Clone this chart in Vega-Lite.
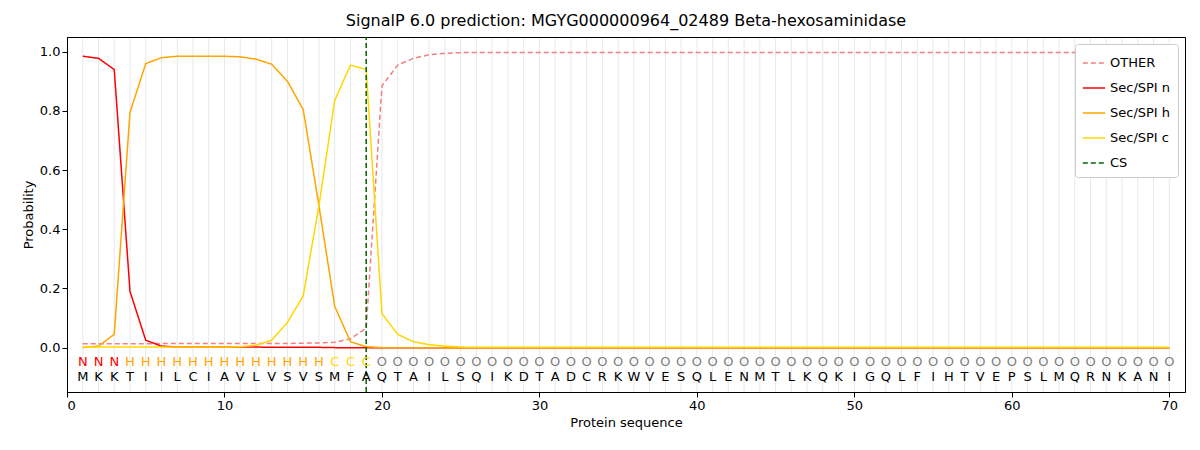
{
  "$schema": "https://vega.github.io/schema/vega-lite/v6.json",
  "width": 1118,
  "height": 355,
  "autosize": "none",
  "padding": {"left": 67, "top": 37, "right": 15, "bottom": 58},
  "title": {"text": "SignalP 6.0 prediction: MGYG000000964_02489 Beta-hexosaminidase", "font": "DejaVu Sans", "fontSize": 16, "fontWeight": "normal", "offset": 7},
  "config": {"font": "DejaVu Sans", "view": {"stroke": "black"}, "axis": {"labelFontSize": 13, "titleFontSize": 13, "titleFontWeight": "normal", "tickColor": "black", "domainColor": "black", "labelColor": "black"}},
  "datasets": {
    "seq": [
      {"pos":1,"aa":"M","lab":"N","n":0.985,"h":0.0,"c":0.002,"o":0.013},
      {"pos":2,"aa":"K","lab":"N","n":0.978,"h":0.005,"c":0.002,"o":0.013},
      {"pos":3,"aa":"K","lab":"N","n":0.94,"h":0.045,"c":0.002,"o":0.013},
      {"pos":4,"aa":"T","lab":"H","n":0.19,"h":0.795,"c":0.002,"o":0.013},
      {"pos":5,"aa":"I","lab":"H","n":0.025,"h":0.96,"c":0.002,"o":0.013},
      {"pos":6,"aa":"I","lab":"H","n":0.005,"h":0.98,"c":0.002,"o":0.014},
      {"pos":7,"aa":"L","lab":"H","n":0.002,"h":0.985,"c":0.002,"o":0.014},
      {"pos":8,"aa":"C","lab":"H","n":0.002,"h":0.985,"c":0.002,"o":0.014},
      {"pos":9,"aa":"I","lab":"H","n":0.002,"h":0.985,"c":0.002,"o":0.014},
      {"pos":10,"aa":"A","lab":"H","n":0.002,"h":0.985,"c":0.002,"o":0.014},
      {"pos":11,"aa":"V","lab":"H","n":0.002,"h":0.983,"c":0.003,"o":0.014},
      {"pos":12,"aa":"L","lab":"H","n":0.002,"h":0.975,"c":0.008,"o":0.014},
      {"pos":13,"aa":"V","lab":"H","n":0.001,"h":0.958,"c":0.025,"o":0.014},
      {"pos":14,"aa":"S","lab":"H","n":0.001,"h":0.9,"c":0.085,"o":0.014},
      {"pos":15,"aa":"V","lab":"H","n":0.001,"h":0.805,"c":0.175,"o":0.015},
      {"pos":16,"aa":"S","lab":"H","n":0.001,"h":0.48,"c":0.48,"o":0.016},
      {"pos":17,"aa":"M","lab":"C","n":0.0,"h":0.14,"c":0.835,"o":0.018},
      {"pos":18,"aa":"F","lab":"C","n":0.0,"h":0.02,"c":0.955,"o":0.03},
      {"pos":19,"aa":"A","lab":"C","n":0.0,"h":0.003,"c":0.94,"o":0.065},
      {"pos":20,"aa":"Q","lab":"O","n":0.0,"h":0.0,"c":0.115,"o":0.885},
      {"pos":21,"aa":"T","lab":"O","n":0.0,"h":0.0,"c":0.045,"o":0.955},
      {"pos":22,"aa":"A","lab":"O","n":0.0,"h":0.0,"c":0.02,"o":0.978},
      {"pos":23,"aa":"I","lab":"O","n":0.0,"h":0.0,"c":0.01,"o":0.99},
      {"pos":24,"aa":"L","lab":"O","n":0.0,"h":0.0,"c":0.005,"o":0.995},
      {"pos":25,"aa":"S","lab":"O","n":0.0,"h":0.0,"c":0.002,"o":0.997},
      {"pos":26,"aa":"Q","lab":"O","n":0.0,"h":0.0,"c":0.001,"o":0.998},
      {"pos":27,"aa":"I","lab":"O","n":0.0,"h":0.0,"c":0.001,"o":0.998},
      {"pos":28,"aa":"K","lab":"O","n":0.0,"h":0.0,"c":0.001,"o":0.998},
      {"pos":29,"aa":"D","lab":"O","n":0.0,"h":0.0,"c":0.001,"o":0.998},
      {"pos":30,"aa":"T","lab":"O","n":0.0,"h":0.0,"c":0.001,"o":0.998},
      {"pos":31,"aa":"A","lab":"O","n":0.0,"h":0.0,"c":0.001,"o":0.998},
      {"pos":32,"aa":"D","lab":"O","n":0.0,"h":0.0,"c":0.001,"o":0.998},
      {"pos":33,"aa":"C","lab":"O","n":0.0,"h":0.0,"c":0.001,"o":0.998},
      {"pos":34,"aa":"R","lab":"O","n":0.0,"h":0.0,"c":0.001,"o":0.998},
      {"pos":35,"aa":"K","lab":"O","n":0.0,"h":0.0,"c":0.001,"o":0.998},
      {"pos":36,"aa":"W","lab":"O","n":0.0,"h":0.0,"c":0.001,"o":0.998},
      {"pos":37,"aa":"V","lab":"O","n":0.0,"h":0.0,"c":0.001,"o":0.998},
      {"pos":38,"aa":"E","lab":"O","n":0.0,"h":0.0,"c":0.001,"o":0.998},
      {"pos":39,"aa":"S","lab":"O","n":0.0,"h":0.0,"c":0.001,"o":0.998},
      {"pos":40,"aa":"Q","lab":"O","n":0.0,"h":0.0,"c":0.001,"o":0.998},
      {"pos":41,"aa":"L","lab":"O","n":0.0,"h":0.0,"c":0.001,"o":0.998},
      {"pos":42,"aa":"E","lab":"O","n":0.0,"h":0.0,"c":0.001,"o":0.998},
      {"pos":43,"aa":"N","lab":"O","n":0.0,"h":0.0,"c":0.001,"o":0.998},
      {"pos":44,"aa":"M","lab":"O","n":0.0,"h":0.0,"c":0.001,"o":0.998},
      {"pos":45,"aa":"T","lab":"O","n":0.0,"h":0.0,"c":0.001,"o":0.998},
      {"pos":46,"aa":"L","lab":"O","n":0.0,"h":0.0,"c":0.001,"o":0.998},
      {"pos":47,"aa":"K","lab":"O","n":0.0,"h":0.0,"c":0.001,"o":0.998},
      {"pos":48,"aa":"Q","lab":"O","n":0.0,"h":0.0,"c":0.001,"o":0.998},
      {"pos":49,"aa":"K","lab":"O","n":0.0,"h":0.0,"c":0.001,"o":0.998},
      {"pos":50,"aa":"I","lab":"O","n":0.0,"h":0.0,"c":0.001,"o":0.998},
      {"pos":51,"aa":"G","lab":"O","n":0.0,"h":0.0,"c":0.001,"o":0.998},
      {"pos":52,"aa":"Q","lab":"O","n":0.0,"h":0.0,"c":0.001,"o":0.998},
      {"pos":53,"aa":"L","lab":"O","n":0.0,"h":0.0,"c":0.001,"o":0.998},
      {"pos":54,"aa":"F","lab":"O","n":0.0,"h":0.0,"c":0.001,"o":0.998},
      {"pos":55,"aa":"I","lab":"O","n":0.0,"h":0.0,"c":0.001,"o":0.998},
      {"pos":56,"aa":"H","lab":"O","n":0.0,"h":0.0,"c":0.001,"o":0.998},
      {"pos":57,"aa":"T","lab":"O","n":0.0,"h":0.0,"c":0.001,"o":0.998},
      {"pos":58,"aa":"V","lab":"O","n":0.0,"h":0.0,"c":0.001,"o":0.998},
      {"pos":59,"aa":"E","lab":"O","n":0.0,"h":0.0,"c":0.001,"o":0.998},
      {"pos":60,"aa":"P","lab":"O","n":0.0,"h":0.0,"c":0.001,"o":0.998},
      {"pos":61,"aa":"S","lab":"O","n":0.0,"h":0.0,"c":0.001,"o":0.998},
      {"pos":62,"aa":"L","lab":"O","n":0.0,"h":0.0,"c":0.001,"o":0.998},
      {"pos":63,"aa":"M","lab":"O","n":0.0,"h":0.0,"c":0.001,"o":0.998},
      {"pos":64,"aa":"Q","lab":"O","n":0.0,"h":0.0,"c":0.001,"o":0.998},
      {"pos":65,"aa":"R","lab":"O","n":0.0,"h":0.0,"c":0.001,"o":0.998},
      {"pos":66,"aa":"N","lab":"O","n":0.0,"h":0.0,"c":0.001,"o":0.998},
      {"pos":67,"aa":"K","lab":"O","n":0.0,"h":0.0,"c":0.001,"o":0.998},
      {"pos":68,"aa":"A","lab":"O","n":0.0,"h":0.0,"c":0.001,"o":0.998},
      {"pos":69,"aa":"N","lab":"O","n":0.0,"h":0.0,"c":0.001,"o":0.998},
      {"pos":70,"aa":"I","lab":"O","n":0.0,"h":0.0,"c":0.001,"o":0.998}
    ],
    "cs": [{"pos": 19, "series": "CS"}]
  },
  "encoding": {
    "x": {"field": "pos", "type": "quantitative", "scale": {"domain": [0, 71], "nice": false}, "axis": {"values": [0,10,20,30,40,50,60,70], "grid": false, "title": "Protein sequence"}}
  },
  "layer": [
    {
      "data": {"name": "seq"},
      "mark": {"type": "rule", "color": "#e8e8e8", "strokeWidth": 1},
      "encoding": {"y": {"datum": -0.15, "type": "quantitative", "scale": {"domain": [-0.15, 1.05], "nice": false}}, "y2": {"datum": 1.045}}
    },
    {
      "data": {"name": "seq"},
      "transform": [
        {"fold": ["o", "n", "h", "c"], "as": ["key", "prob"]},
        {"lookup": "key", "from": {"data": {"values": [{"key":"o","series":"OTHER"},{"key":"n","series":"Sec/SPI n"},{"key":"h","series":"Sec/SPI h"},{"key":"c","series":"Sec/SPI c"}]}, "key": "key", "fields": ["series"]}}
      ],
      "mark": {"type": "line", "strokeWidth": 1.5},
      "encoding": {
        "y": {"field": "prob", "type": "quantitative", "scale": {"domain": [-0.15, 1.05], "nice": false}, "axis": {"values": [0,0.2,0.4,0.6,0.8,1.0], "format": ".1f", "grid": false, "title": "Probability"}},
        "color": {"field": "series", "type": "nominal", "title": null,
          "scale": {"domain": ["OTHER","Sec/SPI n","Sec/SPI h","Sec/SPI c","CS"], "range": ["#f08080","#ff0000","#ffa500","#ffd700","#006400"]},
          "legend": {"orient": "top-right", "offset": 7, "fillColor": "white", "strokeColor": "#cccccc", "padding": 7, "cornerRadius": 3, "labelFontSize": 13, "symbolType": "stroke", "symbolSize": 500, "symbolStrokeWidth": 1.5, "rowPadding": 6}},
        "strokeDash": {"field": "series", "type": "nominal", "title": null,
          "scale": {"domain": ["OTHER","Sec/SPI n","Sec/SPI h","Sec/SPI c","CS"], "range": [[5,3],[1,0],[1,0],[1,0],[5,3]]}}
      }
    },
    {
      "data": {"name": "cs"},
      "mark": {"type": "rule", "strokeWidth": 1.5},
      "encoding": {
        "y": {"datum": -0.15, "type": "quantitative"}, "y2": {"datum": 1.05},
        "color": {"field": "series", "type": "nominal"},
        "strokeDash": {"field": "series", "type": "nominal"}
      }
    },
    {
      "data": {"name": "seq"},
      "mark": {"type": "text", "fontSize": 13, "color": "black"},
      "encoding": {"y": {"datum": -0.1, "type": "quantitative"}, "text": {"field": "aa"}}
    },
    {
      "data": {"name": "seq"},
      "transform": [{"filter": "datum.lab == 'N'"}],
      "mark": {"type": "text", "fontSize": 13, "color": "#ff0000"},
      "encoding": {"y": {"datum": -0.048, "type": "quantitative"}, "text": {"field": "lab"}}
    },
    {
      "data": {"name": "seq"},
      "transform": [{"filter": "datum.lab == 'H'"}],
      "mark": {"type": "text", "fontSize": 13, "color": "#ffa500"},
      "encoding": {"y": {"datum": -0.048, "type": "quantitative"}, "text": {"field": "lab"}}
    },
    {
      "data": {"name": "seq"},
      "transform": [{"filter": "datum.lab == 'C'"}],
      "mark": {"type": "text", "fontSize": 13, "color": "#ffd700"},
      "encoding": {"y": {"datum": -0.048, "type": "quantitative"}, "text": {"field": "lab"}}
    },
    {
      "data": {"name": "seq"},
      "transform": [{"filter": "datum.lab == 'O'"}],
      "mark": {"type": "text", "fontSize": 13, "color": "#808080"},
      "encoding": {"y": {"datum": -0.048, "type": "quantitative"}, "text": {"field": "lab"}}
    }
  ]
}
